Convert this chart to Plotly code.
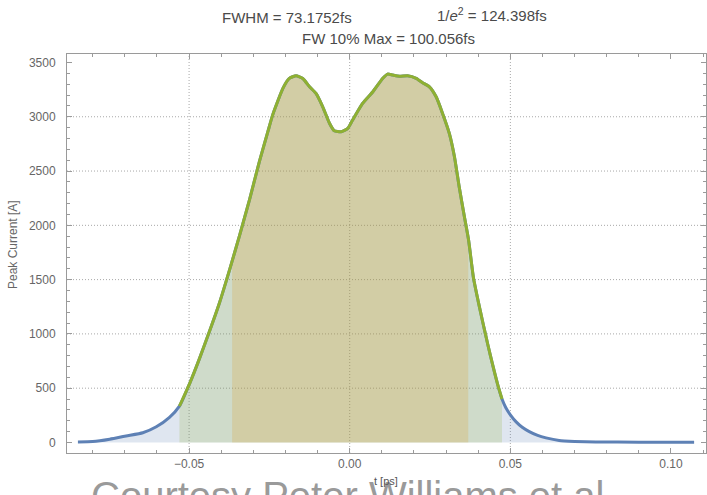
import numpy as np
import plotly.graph_objects as go

# ---------------- data ----------------
t_ps = [-0.0846, -0.0800, -0.0747, -0.0696, -0.0644, -0.0602, -0.0561, -0.0530,
        -0.0498, -0.0468, -0.0437, -0.0405, -0.0374, -0.0343, -0.0312, -0.0281,
        -0.0255, -0.0240, -0.0208, -0.0188, -0.0167, -0.0146, -0.0125, -0.0105,
        -0.0084, -0.0063, -0.0048, -0.0027, -0.0006, 0.0009, 0.0040, 0.0072,
        0.0103, 0.0118, 0.0134, 0.0155, 0.0180, 0.0207, 0.0227, 0.0248,
        0.0269, 0.0289, 0.0310, 0.0326, 0.0341, 0.0357, 0.0370, 0.0385,
        0.0400, 0.0414, 0.0430, 0.0445, 0.0460, 0.0474, 0.0486, 0.0500,
        0.0518, 0.0537, 0.0559, 0.0585, 0.0611, 0.0652, 0.0700, 0.0766,
        0.0900, 0.1072]
current_A = [5, 8, 30, 60, 90, 145, 232, 335,
             545, 770, 1020, 1290, 1590, 1905, 2235, 2590,
             2860, 3015, 3261, 3353, 3378, 3353, 3276, 3215,
             3092, 2940, 2871, 2862, 2893, 2970, 3123, 3230,
             3354, 3393, 3384, 3374, 3378, 3354, 3313, 3276,
             3184, 3031, 2847, 2632, 2350, 2080, 1865, 1520,
             1300, 1110, 900, 714, 540, 400, 320, 255,
             190, 140, 100, 65, 42, 18, 10, 5,
             3, 3]

fw10_bounds = [-0.0530, 0.0474]   # FW 10% Max region
fwhm_bounds = [-0.0366, 0.0369]   # FWHM region

x_tick_vals = [-0.05, 0.0, 0.05, 0.10]
x_tick_text = ["\u22120.05", "0.00", "0.05", "0.10"]
y_tick_vals = [0, 500, 1000, 1500, 2000, 2500, 3000, 3500]
y_tick_text = ["0", "500", "1000", "1500", "2000", "2500", "3000", "3500"]
x_grid = [-0.05, 0.0, 0.05]
y_grid = [500, 1000, 1500, 2000, 2500, 3000]

title_fwhm = "FWHM = 73.1752fs"
title_e2 = "1/<i>e</i><sup>2</sup> = 124.398fs"
title_fw10 = "FW 10% Max = 100.056fs"
x_label = "t [ps]"
y_label = "Peak Current [A]"
watermark = "Courtesy Peter Williams et al"

# ---------------- styling ----------------
W, H = 707, 495
ML, MR, MT, MB = 67, 1, 54, 42
PW, PH = W - ML - MR, H - MT - MB
FONT = "Liberation Sans, Arial, sans-serif"
BLUE = "rgb(94,129,181)"
GREEN = "rgb(143,176,50)"
AXC = "#9a9a9a"
GRIDC = "#a8a8a8"


def px(xp):
    return (xp - ML) / PW


def py(yp):
    return (H - MB - yp) / PH


t_arr = np.array(t_ps)
c_arr = np.array(current_A, dtype=float)


def segment(a, b):
    inner = (t_arr > a) & (t_arr < b)
    ts = np.concatenate([[a], t_arr[inner], [b]])
    return ts, np.interp(ts, t_arr, c_arr)


fig = go.Figure()
# fills
fig.add_trace(go.Scatter(x=t_ps, y=current_A, mode="lines", line=dict(width=0),
                         fill="tozeroy", fillcolor="rgba(94,129,181,0.2)",
                         hoverinfo="skip", showlegend=False))
ts, cs = segment(*fw10_bounds)
fig.add_trace(go.Scatter(x=ts, y=cs, mode="lines", line=dict(width=0),
                         fill="tozeroy", fillcolor="rgba(143,176,50,0.2)",
                         hoverinfo="skip", showlegend=False))
ts2, cs2 = segment(*fwhm_bounds)
fig.add_trace(go.Scatter(x=ts2, y=cs2, mode="lines", line=dict(width=0),
                         fill="tozeroy", fillcolor="rgba(225,156,36,0.22)",
                         hoverinfo="skip", showlegend=False))
# lines
fig.add_trace(go.Scatter(x=t_ps, y=current_A, mode="lines",
                         line=dict(color=BLUE, width=3, shape="spline", smoothing=0.5),
                         showlegend=False))
fig.add_trace(go.Scatter(x=ts, y=cs, mode="lines",
                         line=dict(color=GREEN, width=3, shape="spline", smoothing=0.5),
                         showlegend=False))

shapes = []
for g in x_grid:
    shapes.append(dict(type="line", xref="x", yref="paper", x0=g, x1=g, y0=0, y1=1,
                       line=dict(color=GRIDC, width=1, dash="1px,2px"), layer="below"))
for g in y_grid:
    shapes.append(dict(type="line", xref="paper", yref="y", x0=0, x1=1, y0=g, y1=g,
                       line=dict(color=GRIDC, width=1, dash="1px,2px"), layer="below"))

annotations = []
# watermark first so the axis label sits on top of it
annotations.append(dict(text=watermark, x=px(89), y=py(472), xref="paper", yref="paper",
                        xanchor="left", yanchor="top", showarrow=False,
                        font=dict(family=FONT, size=40, color="#9a9a9a")))
for text, cx, cy in [(title_fwhm, 287, 17), (title_e2, 492, 15), (title_fw10, 388, 39)]:
    annotations.append(dict(text=text, x=px(cx), y=py(cy), xref="paper", yref="paper",
                            xanchor="center", yanchor="middle", showarrow=False,
                            font=dict(family=FONT, size=15, color="#4a4a4a")))
annotations.append(dict(text=x_label, x=px(386), y=py(481), xref="paper", yref="paper",
                        xanchor="center", yanchor="middle", showarrow=False,
                        font=dict(family=FONT, size=11, color="#555")))
annotations.append(dict(text=y_label, x=px(13), y=py(245), xref="paper", yref="paper",
                        xanchor="center", yanchor="middle", showarrow=False, textangle=-90,
                        font=dict(family=FONT, size=12, color="#666")))

axis_common = dict(showline=True, linecolor=AXC, linewidth=1, mirror="ticks",
                   ticks="inside", ticklen=5, tickcolor=AXC, tickwidth=1,
                   showgrid=False, zeroline=False,
                   tickfont=dict(family=FONT, size=12, color="#666"))

fig.update_layout(
    width=W, height=H,
    margin=dict(l=ML, r=MR, t=MT, b=MB, autoexpand=False),
    paper_bgcolor="white", plot_bgcolor="white",
    shapes=shapes, annotations=annotations,
    xaxis=dict(range=[-0.0880, 0.1109], tickmode="array", tickvals=x_tick_vals,
               ticktext=x_tick_text,
               minor=dict(ticks="inside", ticklen=3, tickcolor=AXC, dtick=0.01, tick0=0,
                          showgrid=False),
               **axis_common),
    yaxis=dict(range=[-97, 3578], tickmode="array", tickvals=y_tick_vals,
               ticktext=y_tick_text, ticklabelstandoff=8,
               minor=dict(ticks="inside", ticklen=3, tickcolor=AXC, dtick=100, tick0=0,
                          showgrid=False),
               **axis_common),
)

fig.write_html("out.html")
